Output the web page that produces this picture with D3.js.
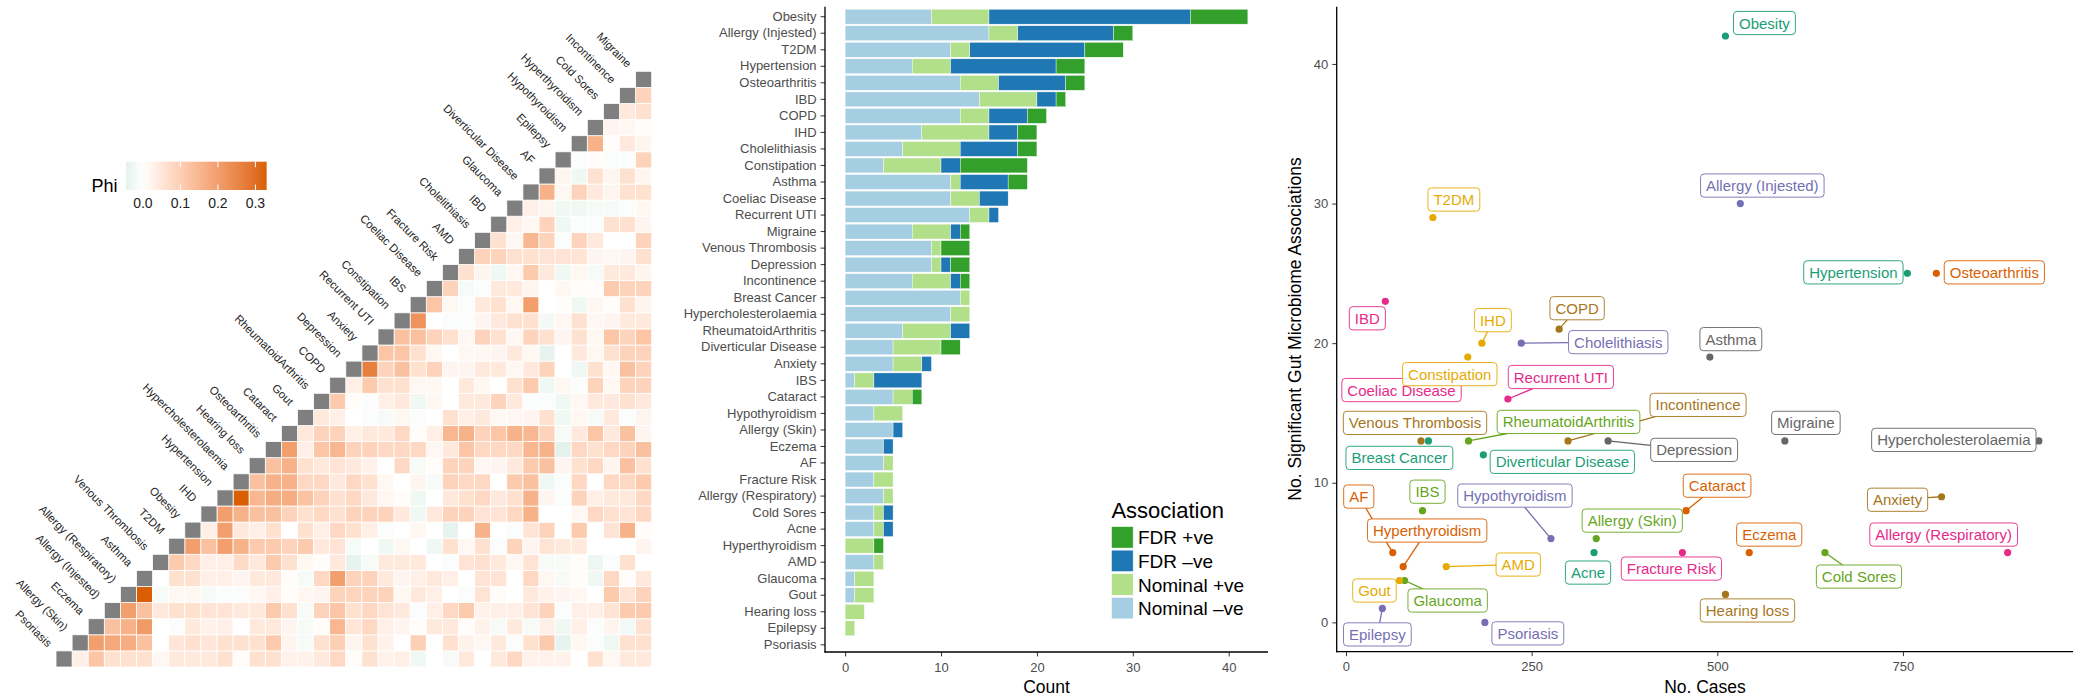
<!DOCTYPE html>
<html>
<head>
<meta charset="utf-8">
<script src="https://cdn.jsdelivr.net/npm/d3@7"></script>
<style>
  body { margin: 0; background: #fff; }
  text { font-family: "Liberation Sans", Arial, Helvetica, sans-serif; }
</style>
</head>
<body>
<svg id="chart" width="2089" height="700"></svg>
<script>
// ---------------- data ----------------
// heatmap order, bottom-left to top-right along the diagonal
var hmDiseases = ["Psoriasis","Allergy (Skin)","Eczema","Allergy (Injested)","Allergy (Respiratory)","Asthma",
  "Venous Thrombosis","T2DM","Obesity","IHD","Hypertension","Hypercholesterolaemia","Hearing loss",
  "Osteoarthritis","Cataract","Gout","RheumatoidArthritis","COPD","Depression","Anxiety","Recurrent UTI",
  "Constipation","IBS","Coeliac Disease","Fracture Risk","AMD","Cholelithiasis","IBD","Glaucoma",
  "Diverticular Disease","AF","Epilepsy","Hypothyroidism","Hyperthyroidism","Cold Sores","Incontinence","Migraine"];

// phi of row disease i with every disease after it (columns i+1 .. end)
var phiRows = [
  [.033,.12,.062,.062,.062,.017,.046,.046,.046,.062,.006,.062,.062,.027,.027,.046,.08,.006,.062,.027,.033,-.025,0,-.015,.046,0,.046,.08,.027,.027,.027,0,.062,.017,.046,.046],
  [.2,.18,.17,.128,0,.052,.062,.052,.062,.062,.062,.11,.02,-.015,.062,.1,.02,.062,.027,0,.1,0,.062,.027,.017,.046,-.008,.062,.11,-.04,.017,-.008,-.025,.062,.062],
  [.128,.16,.21,0,-.008,.046,.027,.033,0,.046,.046,.02,-.015,.006,.15,.052,.08,.033,.02,.006,.046,.046,.006,.027,-.015,.046,-.015,.033,-.025,.033,-.008,.02,-.02,.062],
  [.2,.128,.046,.062,.062,.056,.056,.046,.046,.11,.062,-.015,.09,.12,.062,.08,.056,.046,-.008,.033,.08,.11,.027,.033,.033,.056,.09,-.008,.033,.033,.056,.11,.11],
  [.33,-.015,.017,.017,-.015,-.008,-.008,.017,.033,.006,.017,.02,.09,.088,.09,.09,.017,.046,.033,0,-.008,.056,.006,0,.046,.027,.02,.017,0,.11,.056,.09],
  [0,.062,.062,.033,.033,.02,.046,.046,.006,-.015,.08,.2,.09,.09,.046,.02,.033,.046,.033,0,.056,.056,0,.08,.017,-.015,.006,-.025,.08,.006,.046],
  [.11,.08,.033,.033,.075,.046,.11,.062,.017,.006,.046,-.04,-.015,.046,.046,.046,0,-.008,.056,.062,.046,.017,.056,-.015,-.015,.006,-.03,-.008,.062,0],
  [.2,.128,.2,.16,.11,.11,.09,.11,.046,.056,-.015,0,-.025,.017,0,-.025,.062,.017,.062,-.008,.09,.02,.056,.046,.046,0,0,0,.02],
  [.033,.2,.046,.033,.062,0,.062,.033,.08,.062,.033,-.008,0,.017,0,-.04,0,.16,0,-.008,.056,.09,0,.11,0,.056,.16,.006],
  [.2,.16,.128,.128,.09,.062,.08,.062,.09,.09,.09,.046,-.025,.046,.09,.09,.056,.056,.08,.16,0,0,.017,.08,.062,.056,.08],
  [.33,.15,.17,.17,.125,.09,.062,.08,.046,.017,.006,-.025,0,.046,.062,.08,.046,.062,.16,.02,-.008,.09,.033,.046,.046,.08],
  [.128,.16,.16,.08,.08,.046,.08,.062,.017,0,.02,-.015,.09,.08,.08,0,.11,.128,-.025,-.008,.08,0,.08,.08,.11],
  [.128,.16,.062,.046,.056,.046,.027,0,.08,-.015,.006,.09,.09,.017,.02,.046,.11,.128,.02,.062,.08,.02,.128,.062],
  [.2,.033,.12,.15,.09,.09,.08,.08,.08,.017,.046,.12,.08,.08,.08,.15,.16,-.045,.08,.062,.08,.09,.128],
  [.046,.09,.09,.033,.046,.046,.08,.006,.033,.15,.16,.09,.12,.16,.15,.09,-.015,.046,.12,.046,.128,.02],
  [.046,.033,0,-.008,-.015,.017,-.008,0,.062,.033,.046,.017,.017,.02,.062,-.025,.017,-.015,.046,-.008,.02],
  [.11,.006,-.008,.033,.046,-.025,.017,0,.046,.046,.09,.046,-.008,-.008,-.025,.017,.046,.046,.062,.046],
  [.033,.11,.062,.062,.017,.017,0,.046,.017,0,.062,.11,-.025,.017,-.008,.09,.017,.09,.09],
  [.265,.09,.128,.062,.09,.02,.02,.046,.046,.017,.046,.09,0,-.025,.062,.017,.128,.09],
  [.12,.12,.062,.017,0,.017,.017,.02,.046,.017,-.04,0,.046,.017,.062,.09,.09],
  [.128,.128,.09,.062,.017,.09,.062,.017,.09,.062,.02,.062,.017,.12,.09,.12],
  [.225,0,-.008,-.008,.02,.046,.062,.062,-.02,.017,.062,.017,.02,.046,.046],
  [.12,.017,-.008,.046,.062,.017,.2,0,.006,-.025,.017,.006,.062,.02],
  [.09,-.015,-.008,.046,.046,.02,0,.017,.006,.006,.11,.09,.09],
  [.062,.02,-.025,.017,.11,.046,-.025,.017,-.015,.046,.046,.02],
  [.09,.09,.062,.062,.056,.056,.056,.02,.017,.02,.062],
  [.062,.017,.15,.09,-.008,.09,.046,0,0,.09],
  [.033,.017,.09,-.025,-.008,-.008,.062,.062,.02],
  [.033,.02,-.025,-.025,-.015,-.015,-.008,.017],
  [.16,.017,.09,.046,.02,.062,.062],
  [.02,-.025,.062,.02,.062,.02],
  [-.008,.006,-.008,-.008,.09],
  [.16,.006,.046,.02],
  [.02,.017,.006],
  [.046,.062],
  [.09]
];
var phiTicks = [0, 0.1, 0.2, 0.3];

// bar chart, top to bottom
var barCats = ["Obesity","Allergy (Injested)","T2DM","Hypertension","Osteoarthritis","IBD","COPD","IHD",
  "Cholelithiasis","Constipation","Asthma","Coeliac Disease","Recurrent UTI","Migraine","Venous Thrombosis",
  "Depression","Incontinence","Breast Cancer","Hypercholesterolaemia","RheumatoidArthritis","Diverticular Disease",
  "Anxiety","IBS","Cataract","Hypothyroidism","Allergy (Skin)","Eczema","AF","Fracture Risk",
  "Allergy (Respiratory)","Cold Sores","Acne","Hyperthyroidism","AMD","Glaucoma","Gout","Hearing loss",
  "Epilepsy","Psoriasis"];
var nominalNeg = [9,15,11,7,12,14,12,8,6,4,11,11,13,7,9,9,7,12,11,6,5,5,1,5,3,5,4,4,3,4,3,3,0,3,1,1,0,0,0];
var nominalPos = [6,3,2,4,4,6,3,7,6,6,1,3,2,4,1,1,4,1,2,5,5,3,2,2,3,0,0,1,2,1,1,1,3,1,2,2,2,1,0];
var fdrNeg     = [21,10,12,11,7,2,4,3,6,2,5,3,1,1,0,1,1,0,0,2,0,1,5,0,0,1,1,0,0,0,1,1,0,0,0,0,0,0,0];
var fdrPos     = [6,2,4,3,2,1,2,2,2,7,2,0,0,1,3,2,1,0,0,0,2,0,0,1,0,0,0,0,0,0,0,0,1,0,0,0,0,0,0];
var countTicks = [0, 10, 20, 30, 40];

// scatter: number of cases per disease (same order as barCats)
var nCases = [511,531,117,756,795,53,287,183,236,164,490,95,218,591,101,353,299,111,933,165,185,802,103,458,
  276,337,543,63,453,891,645,334,77,135,79,72,511,49,187];
var caseTicks = [0, 250, 500, 750];
var assocTicks = [0, 10, 20, 30, 40];

// ---------------- layout ----------------
// label box centre relative to its point, px (hand placed like the repelled labels)
var labelShift = {
  "Obesity":[39,-13], "Allergy (Injested)":[22,-18], "T2DM":[21,-18], "Hypertension":[-54,-1],
  "Osteoarthritis":[58,-1], "IBD":[-18,17], "COPD":[18,-21], "IHD":[11,-23], "Cholelithiasis":[97,-1],
  "Constipation":[-18,17], "Asthma":[21,-18], "Coeliac Disease":[-15,5], "Recurrent UTI":[53,-22],
  "Migraine":[21,-18], "Venous Thrombosis":[-6,-18], "Depression":[86,9], "Incontinence":[130,-36],
  "Breast Cancer":[-29,17], "Hypercholesterolaemia":[-85,-1], "RheumatoidArthritis":[100,-19],
  "Diverticular Disease":[79,7], "Anxiety":[-44,3], "IBS":[5,-19], "Cataract":[31,-25],
  "Hypothyroidism":[-36,-43], "Allergy (Skin)":[36,-18], "Eczema":[20,-18], "AF":[-34,-56],
  "Fracture Risk":[-11,16], "Allergy (Respiratory)":[-64,-18], "Cold Sores":[34,24], "Acne":[-6,20],
  "Hyperthyroidism":[24,-36], "AMD":[72,-2], "Glaucoma":[43,20], "Gout":[-25,10],
  "Hearing loss":[22,16], "Epilepsy":[-5,26], "Psoriasis":[43,11]
};

var svg = d3.select("#chart");
svg.append("rect").attr("width", 2089).attr("height", 700).attr("fill", "#fff");

// ================= heatmap =================
var hm = svg.append("g");
var hmX = d3.scaleBand().domain(hmDiseases).range([56, 651.7]);
var hmY = d3.scaleBand().domain(hmDiseases).range([667, 71.3]);

var allPhi = phiRows.flat();
var phiMin = d3.min(allPhi), phiMax = d3.max(allPhi);
var hiCol = d3.interpolateLab("#ffffff", "#d95f02");
var loCol = d3.interpolateLab("#ffffff", "#1b9e77");
var lim = Math.max(Math.abs(phiMin), phiMax);
function phiColor(v) { return v >= 0 ? hiCol(v / lim) : loCol(-v / lim); }

var cells = [];
phiRows.forEach(function(row, i) {
  row.forEach(function(v, k) {
    cells.push({ r: hmDiseases[i], c: hmDiseases[i + 1 + k], v: v });
  });
});

hm.selectAll(".cell").data(cells).enter().append("rect")
  .attr("class", "cell")
  .attr("x", function(d) { return hmX(d.c); })
  .attr("y", function(d) { return hmY(d.r); })
  .attr("width", hmX.bandwidth())
  .attr("height", hmY.bandwidth())
  .attr("fill", function(d) { return phiColor(d.v); })
  .attr("stroke", "#fff")
  .attr("stroke-width", 0.8);

hm.selectAll(".diag").data(hmDiseases).enter().append("rect")
  .attr("class", "diag")
  .attr("x", function(d) { return hmX(d); })
  .attr("y", function(d) { return hmY(d); })
  .attr("width", hmX.bandwidth())
  .attr("height", hmY.bandwidth())
  .attr("fill", "#7f7f7f")
  .attr("stroke", "#fff")
  .attr("stroke-width", 0.8);

hm.selectAll(".dlab").data(hmDiseases).enter().append("text")
  .attr("class", "dlab")
  .attr("transform", function(d) {
    return "translate(" + (hmX(d) - 6) + "," + (hmY(d) - 6) + ") rotate(45)";
  })
  .attr("text-anchor", "end")
  .attr("dominant-baseline", "central")
  .style("font-size", "11.4px")
  .style("fill", "#262626")
  .text(function(d) { return d; });

// Phi colour bar
var legX = d3.scaleLinear().domain([0, 0.1]).range([142.9, 180.4]);
var grad = svg.append("defs").append("linearGradient").attr("id", "phigrad");
d3.range(0, 1.0001, 0.05).forEach(function(t) {
  var v = phiMin + t * (phiMax - phiMin);
  grad.append("stop").attr("offset", t).attr("stop-color", phiColor(v));
});
var barTop = 161.7, barH = 28.3;
svg.append("rect")
  .attr("x", legX(phiMin)).attr("y", barTop)
  .attr("width", legX(phiMax) - legX(phiMin)).attr("height", barH)
  .attr("fill", "url(#phigrad)");
phiTicks.forEach(function(t) {
  svg.append("line").attr("x1", legX(t)).attr("x2", legX(t)).attr("y1", barTop).attr("y2", barTop + 5.5)
    .attr("stroke", "#fff").attr("stroke-width", 1);
  svg.append("line").attr("x1", legX(t)).attr("x2", legX(t)).attr("y1", barTop + barH - 5.5).attr("y2", barTop + barH)
    .attr("stroke", "#fff").attr("stroke-width", 1);
  svg.append("text").attr("x", legX(t)).attr("y", 207.7)
    .attr("text-anchor", "middle").style("font-size", "14px").style("fill", "#222")
    .text(t.toFixed(1));
});
svg.append("text").attr("x", 91.5).attr("y", 192).style("font-size", "18px").style("fill", "#000").text("Phi");

// ================= stacked bars =================
var barY = d3.scaleBand().domain(barCats).range([8.43, 653.1]).paddingInner(0.1).paddingOuter(0.05);
var barX = d3.scaleLinear().domain([-2.1, 44.1]).range([825, 1268]);

var seriesNames = ["Nominal -ve", "Nominal +ve", "FDR -ve", "FDR +ve"];
var seriesVals = [nominalNeg, nominalPos, fdrNeg, fdrPos];
var seriesCols = ["#a6cee3", "#b2df8a", "#1f78b4", "#33a02c"];
var barColor = d3.scaleOrdinal().domain(seriesNames).range(seriesCols);

var tableRows = barCats.map(function(c, i) {
  var o = { cat: c };
  seriesNames.forEach(function(s, k) { o[s] = seriesVals[k][i]; });
  return o;
});
var stacked = d3.stack().keys(seriesNames)(tableRows);

var bars = svg.append("g");
stacked.forEach(function(layer) {
  bars.selectAll(null).data(layer.filter(function(d) { return d[1] > d[0]; })).enter().append("rect")
    .attr("x", function(d) { return barX(d[0]); })
    .attr("y", function(d) { return barY(d.data.cat); })
    .attr("width", function(d) { return barX(d[1]) - barX(d[0]); })
    .attr("height", barY.bandwidth())
    .attr("fill", barColor(layer.key))
    .attr("stroke", "#fff")
    .attr("stroke-width", 0.4);
});

function styleAxis(g) {
  g.select(".domain").remove();
  g.selectAll(".tick line").attr("stroke", "#333").attr("stroke-width", 1);
  g.selectAll(".tick text").style("font-size", "13px").style("fill", "#4d4d4d")
    .style("font-family", "'Liberation Sans', Arial, sans-serif");
}

svg.append("g").attr("transform", "translate(825,0)")
  .call(d3.axisLeft(barY).tickSize(4.4).tickPadding(4)).call(styleAxis);
svg.append("g").attr("transform", "translate(0,652)")
  .call(d3.axisBottom(barX).tickValues(countTicks).tickSize(4.4).tickPadding(6)).call(styleAxis);
svg.append("line").attr("x1", 825).attr("x2", 825).attr("y1", 6.7).attr("y2", 652.6)
  .attr("stroke", "#000").attr("stroke-width", 1.3);
svg.append("line").attr("x1", 824.4).attr("x2", 1268).attr("y1", 652).attr("y2", 652)
  .attr("stroke", "#000").attr("stroke-width", 1.3);
svg.append("text").attr("x", 1046.5).attr("y", 693).attr("text-anchor", "middle")
  .style("font-size", "17.5px").style("fill", "#000").text("Count");

// legend
var legOrder = ["FDR +ve", "FDR -ve", "Nominal +ve", "Nominal -ve"];
var leg = svg.append("g").attr("transform", "translate(1111.4,0)");
leg.append("text").attr("x", 0).attr("y", 518).style("font-size", "22px").style("fill", "#000").text("Association");
legOrder.forEach(function(s, i) {
  var y = 526.5 + i * 23.6;
  leg.append("rect").attr("x", 0).attr("y", y).attr("width", 21.8).attr("height", 21.6)
    .attr("fill", barColor(s)).attr("stroke", "#fff").attr("stroke-width", 0.6);
  leg.append("text").attr("x", 26.6).attr("y", y + 10.8 + 7).style("font-size", "19px").style("fill", "#000")
    .text(s.replace("-ve", "\u2013ve"));
});

// ================= scatter =================
var scX = d3.scaleLinear().domain([-12.5, 979]).range([1336.7, 2073]);
var scY = d3.scaleLinear().domain([-2.1, 44.1]).range([651.7, 6.7]);

var sortedNames = barCats.slice().sort(function(a, b) {
  return d3.ascending(a.toLowerCase(), b.toLowerCase());
});
var dark2 = d3.scaleOrdinal().domain(sortedNames)
  .range(sortedNames.map(function(d, i) { return d3.schemeDark2[i % 8]; }));

var pts = barCats.map(function(c, i) {
  return { name: c, cases: nCases[i], n: nominalNeg[i] + nominalPos[i] + fdrNeg[i] + fdrPos[i] };
});

svg.append("g").attr("transform", "translate(1336.7,0)")
  .call(d3.axisLeft(scY).tickValues(assocTicks).tickFormat(d3.format("d")).tickSize(4.4).tickPadding(4)).call(styleAxis);
svg.append("g").attr("transform", "translate(0,651.7)")
  .call(d3.axisBottom(scX).tickValues(caseTicks).tickFormat(d3.format("d")).tickSize(4.4).tickPadding(6)).call(styleAxis);
svg.append("line").attr("x1", 1336.7).attr("x2", 1336.7).attr("y1", 6.7).attr("y2", 652.3)
  .attr("stroke", "#000").attr("stroke-width", 1.3);
svg.append("line").attr("x1", 1336.1).attr("x2", 2073).attr("y1", 651.7).attr("y2", 651.7)
  .attr("stroke", "#000").attr("stroke-width", 1.3);
svg.append("text").attr("x", 1705).attr("y", 693).attr("text-anchor", "middle")
  .style("font-size", "17.5px").style("fill", "#000").text("No. Cases");
svg.append("text").attr("transform", "translate(1301,329) rotate(-90)").attr("text-anchor", "middle")
  .style("font-size", "17.5px").style("fill", "#000").text("No. Significant Gut Microbiome Associations");

var segLayer = svg.append("g");
var ptLayer = svg.append("g");
var labLayer = svg.append("g");

ptLayer.selectAll("circle").data(pts).enter().append("circle")
  .attr("cx", function(d) { return scX(d.cases); })
  .attr("cy", function(d) { return scY(d.n); })
  .attr("r", 3.6)
  .attr("fill", function(d) { return dark2(d.name); });

pts.slice().reverse().forEach(function(d) {
  var px = scX(d.cases), py = scY(d.n);
  var sh = labelShift[d.name];
  var cx = px + sh[0], cy = py + sh[1];
  var col = dark2(d.name);
  var g = labLayer.append("g");
  var t = g.append("text").attr("x", cx).attr("y", cy)
    .attr("text-anchor", "middle").attr("dominant-baseline", "central")
    .style("font-size", "15px").style("fill", col).text(d.name);
  var w = t.node().getComputedTextLength() + 11, h = 23.2;
  g.insert("rect", "text").attr("x", cx - w / 2).attr("y", cy - h / 2).attr("width", w).attr("height", h)
    .attr("rx", 3.5).attr("fill", "#fff").attr("stroke", col).attr("stroke-width", 0.9);
  // leader segment when the point sits away from its box
  var dx = px - cx, dy = py - cy;
  var ox = Math.max(Math.abs(dx) - w / 2, 0), oy = Math.max(Math.abs(dy) - h / 2, 0);
  if (Math.hypot(ox, oy) > 8.5) {
    var s = Math.min((w / 2) / Math.abs(dx || 1e-6), (h / 2) / Math.abs(dy || 1e-6));
    segLayer.append("line")
      .attr("x1", px).attr("y1", py).attr("x2", cx + dx * s).attr("y2", cy + dy * s)
      .attr("stroke", col).attr("stroke-width", 1.3);
  }
});
</script>
</body>
</html>
